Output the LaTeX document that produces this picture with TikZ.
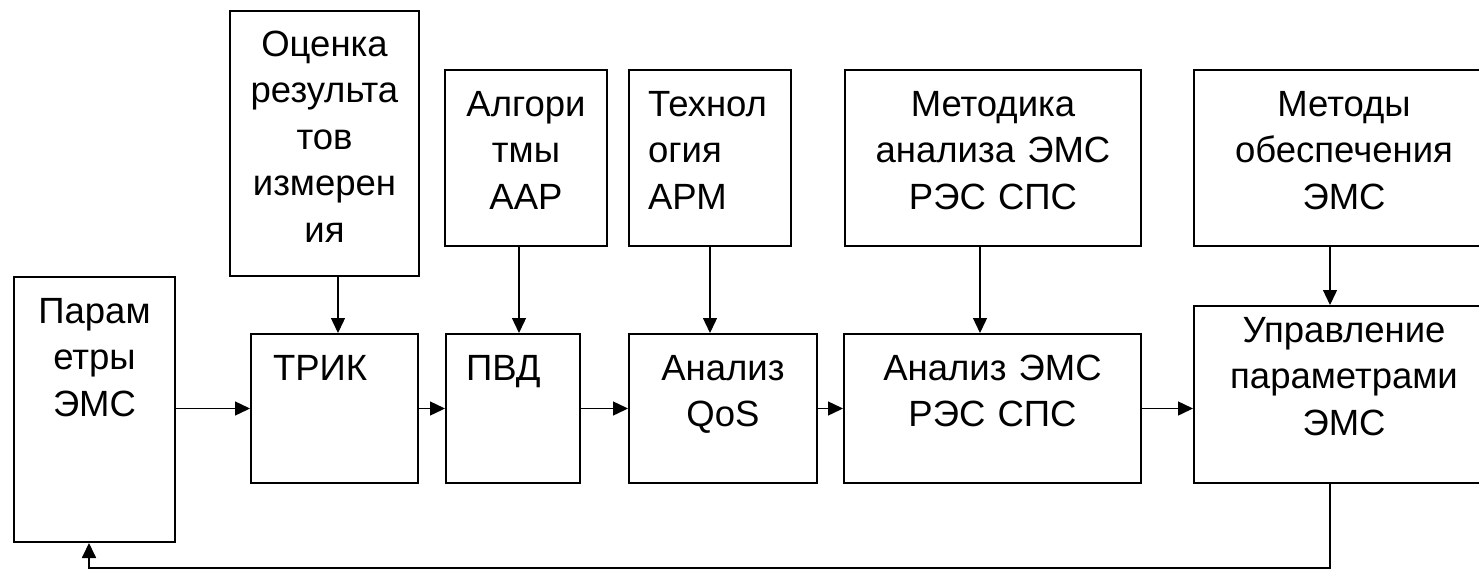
\documentclass[tikz,border=0pt]{standalone}
\usepackage{fontspec}
\setmainfont{Liberation Sans}
\usetikzlibrary{arrows.meta}

\tikzset{
  blk/.style={draw, line width=2pt, anchor=north west, inner sep=0pt,
    align=center, text height=46pt, font=\fontsize{36.5}{46.5}\selectfont},
  flow/.style={line width=1.4pt, -{Triangle[length=15pt, width=14pt]}},
}

\begin{document}
\begin{tikzpicture}[x=1pt, y=-1pt]
\useasboundingbox (0,0) rectangle (1479,570);
\clip (0,0) rectangle (1479,570);

\node[blk, text width=161, text depth=219] (par) at (13,276) {Парам\\етры\\ЭМС};
\node[blk, text width=189, text depth=220, text height=45pt] (ocen) at (229,10) {Оценка\\результа\\тов\\измерен\\ия};
\node[blk, align=left, inner xsep=22pt, text width=123, text depth=103] (trik) at (250,333) {ТРИК};
\node[blk, text width=162, text depth=130] (algo) at (444,69) {Алгори\\тмы\\ААР};
\node[blk, align=left, inner xsep=20pt, text width=94, text depth=103] (pvd) at (445,333) {ПВД};
\node[blk, align=left, inner xsep=19pt, text width=124, text depth=130] (tech) at (628,69) {Технол\\огия\\АРМ};
\node[blk, text width=188, text depth=103] (qos) at (628,333) {Анализ\\QoS};
\node[blk, text width=296, text depth=130] (metk) at (844,69) {Методика\\анализа ЭМС\\РЭС СПС};
\node[blk, text width=297, text depth=103] (ems) at (843,333) {Анализ ЭМС\\РЭС СПС};
\node[blk, text width=300, text depth=130] (metd) at (1193,69) {Методы\\обеспечения\\ЭМС};
\node[blk, text width=300, text height=36pt, text depth=141] (upr) at (1193,305) {Управление\\параметрами\\ЭМС};
\coordinate (loop) at (0,568);

\draw[flow] (par.east |- trik.west) -- (trik.west);
\draw[flow] (trik.east) -- (pvd.west);
\draw[flow] (pvd.east) -- (qos.west);
\draw[flow] (qos.east) -- (ems.west);
\draw[flow] (ems.east) -- (ems.east -| upr.west);

\draw[flow] ([xshift=13.5pt]ocen.south) -- ([xshift=13.5pt]ocen.south |- trik.north);
\draw[flow] ([xshift=-7pt]algo.south) -- ([xshift=-7pt]algo.south |- pvd.north);
\draw[flow] (tech.south) -- (tech.south |- qos.north);
\draw[flow] ([xshift=-13pt]metk.south) -- ([xshift=-13pt]metk.south |- ems.north);
\draw[flow] ([xshift=-14pt]metd.south) -- ([xshift=-14pt]metd.south |- upr.north);

\draw[flow, line width=1.8pt] ([xshift=-14pt]upr.south) |- ([xshift=-5.5pt]par.south |- loop) -- ([xshift=-5.5pt]par.south);
\end{tikzpicture}
\end{document}
